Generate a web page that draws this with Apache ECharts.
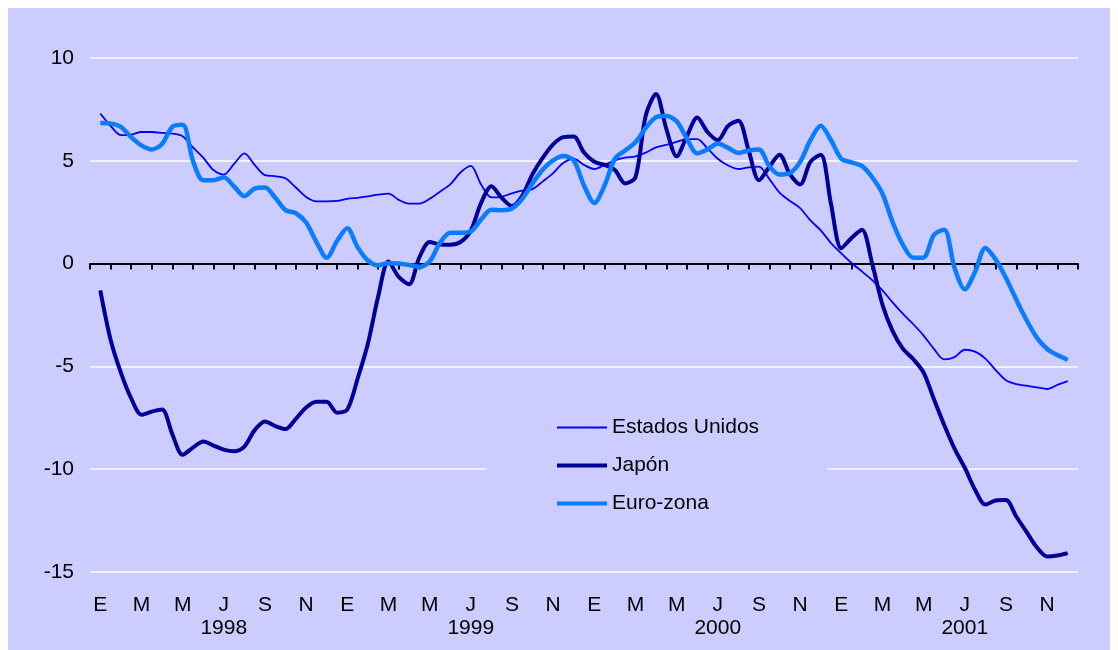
<!DOCTYPE html>
<html>
<head>
<meta charset="utf-8">
<script src="https://cdn.jsdelivr.net/npm/echarts@6/dist/echarts.min.js"></script>
<style>
  body { margin: 8px; background: #fff; overflow: hidden; }
  #chart { width: 1118px; height: 650px; background: #CCCCFF; }
</style>
</head>
<body>
<div id="chart"></div>
<script>
// Meses (E = enero ... D = diciembre) y años del eje
const monthLetters = ["E", "F", "M", "A", "M", "J", "J", "A", "S", "O", "N", "D"];
const years = [1998, 1999, 2000, 2001];

// Valores cada medio mes, de mediados de enero 1998 a mediados de diciembre 2001
const estadosUnidos = [
  7.3, 6.7, 6.25, 6.27, 6.4, 6.4, 6.36, 6.32, 6.2, 5.65, 5.15, 4.55, 4.33, 4.85, 5.36, 4.8,
  4.3, 4.25, 4.15, 3.7, 3.24, 3.03, 3.03, 3.05, 3.15, 3.2, 3.27, 3.35, 3.4, 3.1, 2.92, 2.92,
  3.15, 3.5, 3.85, 4.43, 4.75, 3.85, 3.22, 3.25, 3.42, 3.55, 3.62, 4.0, 4.4, 4.9, 5.1, 4.8,
  4.6, 4.8, 5.02, 5.15, 5.22, 5.4, 5.65, 5.78, 5.92, 6.05, 6.05, 5.6, 5.1, 4.77, 4.6, 4.68,
  4.72, 4.12, 3.45, 3.05, 2.7, 2.1, 1.62, 1.0, 0.5, 0.03, -0.38, -0.8, -1.3, -1.9, -2.45, -2.95,
  -3.5, -4.15, -4.66, -4.55, -4.19, -4.28, -4.62, -5.18, -5.67, -5.86, -5.94, -6.02, -6.1, -5.9, -5.72
];
const japon = [
  -1.3, -3.7, -5.3, -6.55, -7.35, -7.2, -7.1, -8.3, -9.3, -8.95, -8.65, -8.85, -9.05, -9.13, -8.9, -8.1,
  -7.68, -7.9, -8.05, -7.55, -7.0, -6.72, -6.72, -7.25, -7.1, -5.6, -3.9, -1.6, 0.1, -0.65, -1.0, 0.3,
  1.05, 0.93, 0.92, 1.05, 1.6, 2.95, 3.76, 3.2, 2.8, 3.3, 4.35, 5.15, 5.8, 6.15, 6.18, 5.4,
  4.95, 4.8, 4.55, 3.9, 4.2, 7.2, 8.25, 6.55, 5.22, 6.2, 7.1, 6.4, 6.0, 6.7, 6.95, 5.5,
  4.05, 4.7, 5.3, 4.35, 3.85, 4.95, 5.3, 2.9, 0.75, 1.25, 1.65, 0.0, -2.0, -3.3, -4.15, -4.65,
  -5.3, -6.6, -7.85, -9.0, -9.93, -11.0, -11.72, -11.52, -11.5, -12.3, -13.05, -13.8, -14.25, -14.2, -14.08
];
const euroZona = [
  6.84, 6.82, 6.65, 6.15, 5.75, 5.55, 5.82, 6.65, 6.75, 5.0, 4.05, 4.05, 4.2, 3.75, 3.28, 3.65,
  3.7, 3.2, 2.6, 2.45, 2.0, 1.05, 0.28, 1.1, 1.72, 0.8, 0.15, -0.08, 0.02, 0.0, -0.07, -0.16,
  0.1, 1.0, 1.5, 1.5, 1.56, 2.15, 2.62, 2.6, 2.68, 3.15, 3.9, 4.58, 5.02, 5.23, 5.02, 3.8,
  2.95, 3.8, 5.1, 5.5, 5.9, 6.6, 7.12, 7.18, 6.92, 6.08, 5.36, 5.55, 5.84, 5.63, 5.38, 5.5,
  5.55, 4.75, 4.33, 4.4, 4.95, 6.0, 6.7, 6.0, 5.1, 4.92, 4.75, 4.2, 3.4, 2.0, 0.9, 0.28,
  0.3, 1.4, 1.65, -0.2, -1.25, -0.4, 0.76, 0.2, -0.7, -1.75, -2.75, -3.6, -4.15, -4.45, -4.68
];

const font = 'Arial, "Liberation Sans", sans-serif';

// categorías mensuales para las etiquetas
const categories = [];
years.forEach(y => monthLetters.forEach((m, i) => categories.push(y + "-" + (i + 1))));

// x en meses desde enero 1998 (0.5 = mitad de enero)
const toPoints = arr => arr.map((v, i) => [0.5 + 0.5 * i, v]);

const chart = echarts.init(document.getElementById("chart"), null, { renderer: "canvas" });

chart.setOption({
  animation: false,
  backgroundColor: "#CCCCFF",
  grid: { left: 82, right: 48, top: 50, height: 514 },
  legend: {
    orient: "vertical",
    left: 479,
    top: 388,
    padding: [20, 68, 20, 68],
    backgroundColor: "#CCCCFF",
    itemWidth: 50,
    itemHeight: 14,
    itemGap: 15,
    itemStyle: { opacity: 0 },
    textStyle: { fontFamily: font, fontSize: 21, color: "#000", lineHeight: 23 },
    data: [
      { name: "Estados Unidos", lineStyle: { width: 2 } },
      { name: "Japón", lineStyle: { width: 4 } },
      { name: "Euro-zona", lineStyle: { width: 4 } }
    ]
  },
  xAxis: [{
    type: "value",
    position: "top",
    min: 0,
    max: 48,
    interval: 1,
    axisLine: { onZero: true, lineStyle: { color: "#000", width: 2 } },
    axisTick: { show: true, inside: true, length: 6, lineStyle: { color: "#000", width: 2 } },
    axisLabel: { show: false },
    splitLine: { show: false }
  }, {
    type: "category",
    position: "bottom",
    data: categories,
    boundaryGap: true,
    axisLine: { show: false, onZero: false },
    axisTick: { show: false },
    axisLabel: {
      interval: 1,
      margin: 22,
      fontFamily: font,
      fontSize: 21,
      lineHeight: 23,
      color: "#000",
      formatter: (value, idx) => {
        const m = idx % 12;
        const letter = monthLetters[m];
        return m === 6 ? letter + "\n" + years[Math.floor(idx / 12)] : letter;
      }
    },
    splitLine: { show: false }
  }],
  yAxis: {
    type: "value",
    min: -15,
    max: 10,
    interval: 5,
    axisLine: { show: false },
    axisTick: { show: false },
    axisLabel: { margin: 16, fontFamily: font, fontSize: 21, color: "#000" },
    splitLine: { lineStyle: { color: "#FFFFFF", width: 1.5 } }
  },
  series: [{
    name: "Estados Unidos",
    type: "line",
    xAxisIndex: 0,
    symbol: "none",
    smooth: 0.3,
    lineStyle: { color: "#0000FF", width: 1.8 },
    itemStyle: { color: "#0000FF" },
    data: toPoints(estadosUnidos)
  }, {
    name: "Japón",
    type: "line",
    xAxisIndex: 0,
    symbol: "none",
    smooth: 0.3,
    lineStyle: { color: "#000099", width: 4 },
    itemStyle: { color: "#000099" },
    data: toPoints(japon)
  }, {
    name: "Euro-zona",
    type: "line",
    xAxisIndex: 0,
    symbol: "none",
    smooth: 0.3,
    lineStyle: { color: "#0A7CFF", width: 4.5 },
    itemStyle: { color: "#0A7CFF" },
    data: toPoints(euroZona)
  }]
});
</script>
</body>
</html>
